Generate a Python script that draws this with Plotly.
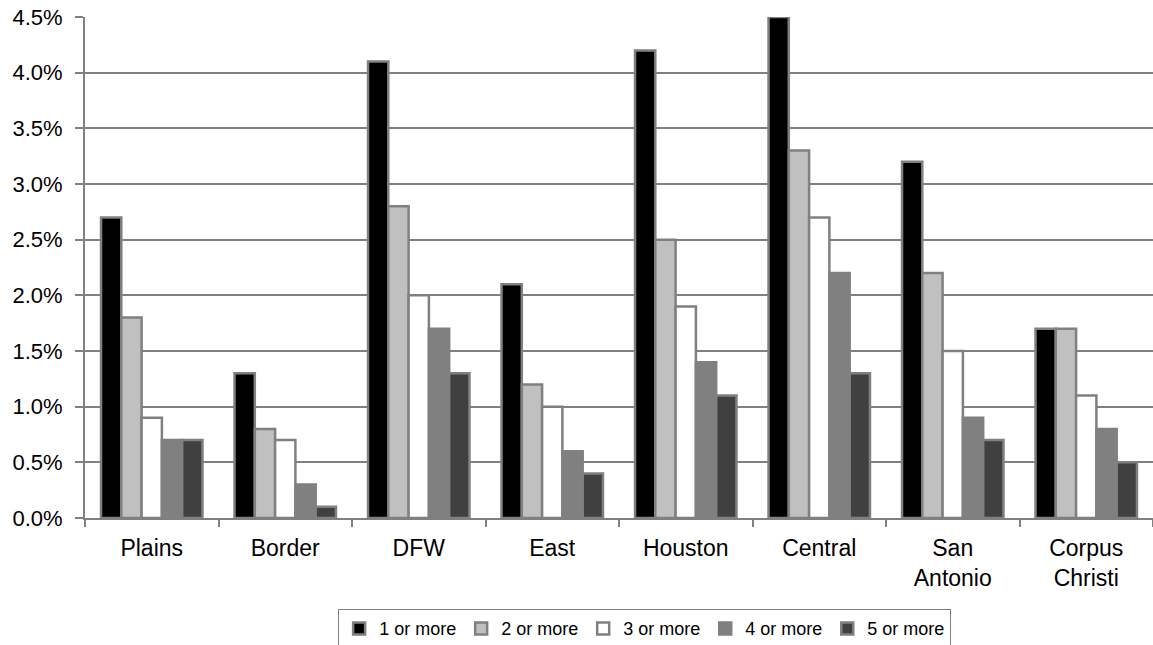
import plotly.graph_objects as go

regions = ["Plains", "Border", "DFW", "East", "Houston", "Central",
           "San<br>Antonio", "Corpus<br>Christi"]

series_names = ["1 or more", "2 or more", "3 or more", "4 or more", "5 or more"]

one_or_more = [2.7, 1.3, 4.1, 2.1, 4.2, 4.5, 3.2, 1.7]
two_or_more = [1.8, 0.8, 2.8, 1.2, 2.5, 3.3, 2.2, 1.7]
three_or_more = [0.9, 0.7, 2.0, 1.0, 1.9, 2.7, 1.5, 1.1]
four_or_more = [0.7, 0.3, 1.7, 0.6, 1.4, 2.2, 0.9, 0.8]
five_or_more = [0.7, 0.1, 1.3, 0.4, 1.1, 1.3, 0.7, 0.5]

fills = ["#000000", "#C0C0C0", "#FFFFFF", "#808080", "#404040"]
outline = "#808080"

fig = go.Figure()
for name, vals, col in zip(series_names,
                           [one_or_more, two_or_more, three_or_more,
                            four_or_more, five_or_more], fills):
    fig.add_trace(go.Bar(
        x=regions, y=[v / 100 for v in vals], name=name,
        marker=dict(color=col, line=dict(color=outline, width=2.5)),
    ))

font = "Liberation Sans, Arial, sans-serif"
fig.update_layout(
    width=1153, height=645,
    margin=dict(l=85, r=0, t=17, b=127, autoexpand=False),
    paper_bgcolor="white", plot_bgcolor="white",
    barmode="group", bargap=0.24, bargroupgap=0,
    font=dict(family=font, size=22, color="#000000"),
    showlegend=True,
    legend=dict(
        orientation="h", x=0.524, xanchor="center", y=-0.182, yanchor="top",
        bordercolor="#808080", borderwidth=1, bgcolor="white",
        font=dict(size=18), itemwidth=30, traceorder="normal",
    ),
    xaxis=dict(
        showgrid=False, showline=True, linecolor="#808080", linewidth=2,
        ticks="outside", tickson="boundaries", ticklen=7, tickcolor="#808080",
        tickwidth=2, tickfont=dict(size=23), range=[-0.5, 7.5],
        ticklabelstandoff=8, automargin=False,
    ),
    yaxis=dict(
        range=[0, 0.045], dtick=0.005, tickformat=".1%",
        showgrid=True, gridcolor="#808080", gridwidth=2,
        showline=True, linecolor="#808080", linewidth=2,
        ticks="outside", ticklen=8, tickcolor="#808080", tickwidth=2,
        tickfont=dict(size=22), zeroline=False, ticklabelstandoff=8,
        automargin=False,
    ),
)

fig.write_html("out.html")
